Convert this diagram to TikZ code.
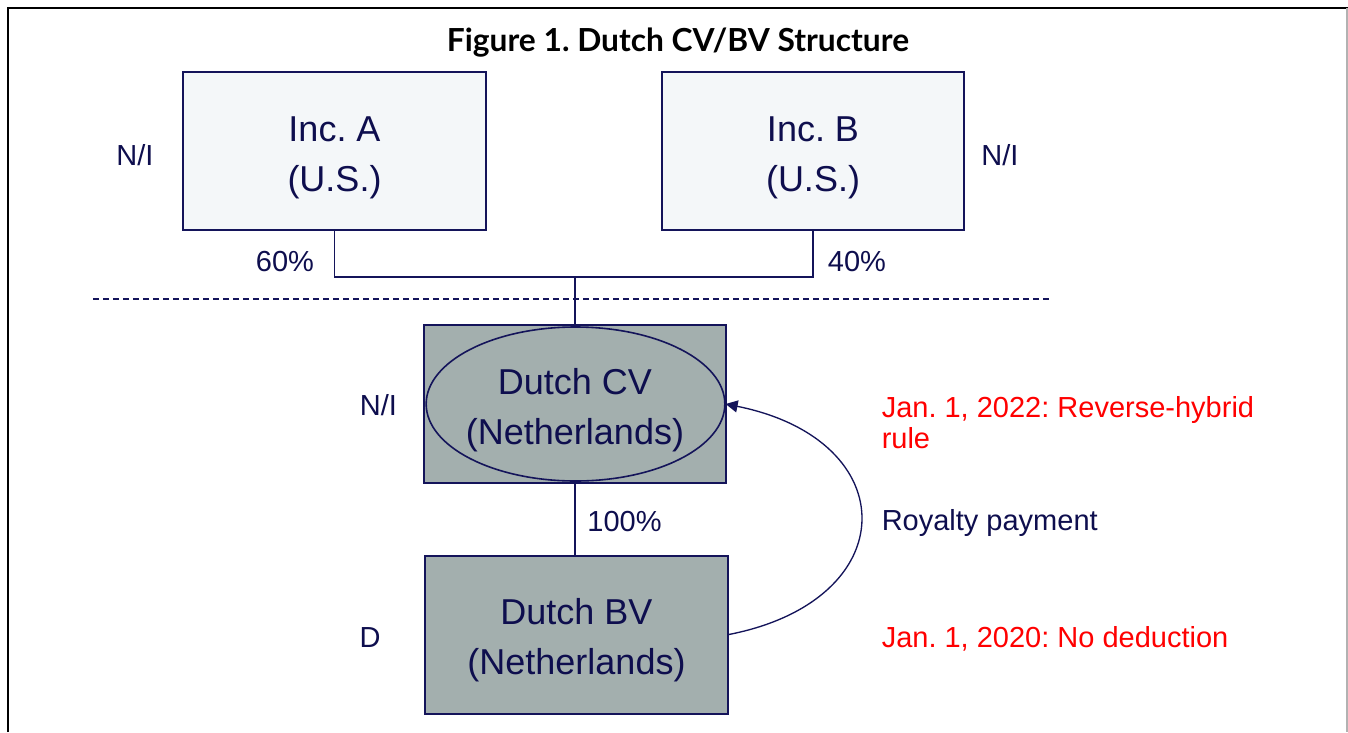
\documentclass[tikz,border=0pt]{standalone}
\usepackage{fontspec}
\setmainfont{Liberation Sans}
\newfontfamily\titlefont{Lato}
\usetikzlibrary{shapes.geometric,arrows.meta}
\definecolor{navy}{HTML}{14145A}
\definecolor{navytxt}{HTML}{0E0E4E}
\definecolor{boxgray}{HTML}{A3AFAE}
\definecolor{boxlight}{HTML}{F4F7F9}
\definecolor{redtxt}{HTML}{FF0000}
\newcommand{\topstrut}{\rule{0pt}{28.5pt}}
\begin{document}
\frenchspacing
\begin{tikzpicture}[x=0.75pt,y=-0.75pt,
  ent/.style={draw=navy,line width=1.5pt,minimum width=227pt,minimum height=118.5pt,inner sep=0pt,text=navytxt,align=center,font=\fontsize{27}{37.5}\selectfont},
  lbl/.style={inner sep=0pt,text=navytxt,font=\fontsize{21.75}{23.25}\selectfont},
  note/.style={lbl,text=redtxt,align=left},
  conn/.style={draw=navy,line width=1pt}]
\useasboundingbox (0,0) rectangle (1348,732);
\fill[white] (0,0) rectangle (1348,732);
% frame
\draw[black,line width=2pt] (8,732) -- (8,8) -- (1348,8);
\draw[black!30,line width=1pt] (1347,8) -- (1347,732);
% title
\node[inner sep=0pt,anchor=base,font=\titlefont\bfseries\fontsize{23.8}{28}\selectfont] (title) at (678,51) {Figure 1. Dutch CV/BV Structure};
% entities
\node[ent,fill=boxlight] (incA) at (334.5,151) {\topstrut Inc. A\\(U.S.)};
\node[ent,fill=boxlight] (incB) at (813,151) {\topstrut Inc. B\\(U.S.)};
\node[ent,fill=boxgray] (cvbox) at (575,404) {\topstrut Dutch CV\\(Netherlands)};
\node[ellipse,draw=navy,line width=1.2pt,minimum width=224pt,minimum height=115.5pt,inner sep=0pt] (cv) at (575.5,404) {};
\node[ent,fill=boxgray] (bv) at (576.5,634.5) {\topstrut Dutch BV\\(Netherlands)};
% ownership lines
\coordinate (jn) at (575,277);
\draw[conn] (incA.south) |- (jn) -| (incB.south);
\draw[conn] (jn) -- (cvbox.north);
\draw[conn] (cvbox.south) -- (cvbox.south |- bv.north);
% dashed divider
\coordinate (dl) at (93,299);
\coordinate (dr) at (1053,299);
\draw[conn,dash pattern=on 4.5pt off 3pt] (dl) -- (dr);
% royalty arc
\draw[conn,-{Triangle[length=9pt,width=9pt]}] (bv.east) .. controls (905,600) and (905,440) .. (cv.east);
% labels
\node[lbl,anchor=base] (niA) at (135,165) {N/I};
\node[lbl,anchor=base] (niB) at (1000,165) {N/I};
\node[lbl,anchor=base] (niCV) at (378.5,415) {N/I};
\node[lbl,anchor=base] (dBV) at (370,647) {D};
\node[lbl,anchor=base] (pA) at (285,271) {60\%};
\node[lbl,anchor=base] (pB) at (857,271) {40\%};
\node[lbl,anchor=base] (pCV) at (624.5,531) {100\%};
\node[lbl,anchor=base west] (roy) at (881.5,530) {Royalty payment};
\node[note,anchor=north west] (n2022) at (881.5,396) {Jan. 1, 2022: Reverse-hybrid\\rule};
\node[note,anchor=base west] (n2020) at (881.5,647) {Jan. 1, 2020: No deduction};
\end{tikzpicture}
\end{document}
